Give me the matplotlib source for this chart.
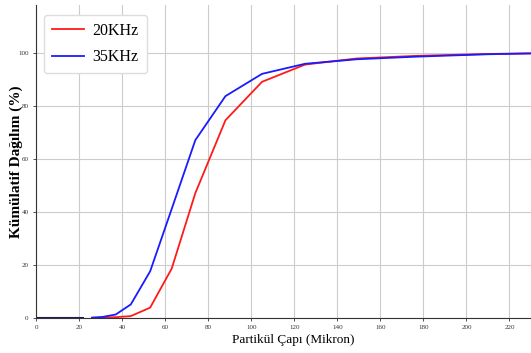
import matplotlib
matplotlib.use("Agg")
from matplotlib import pyplot as plt

# particle size (micron)
size = [26, 31, 37, 44, 53, 63, 74, 88, 105, 125, 149, 177, 210, 250]
khz20 = [0, 0, 0.2, 0.6, 3.8, 18.5, 47, 74.5, 89, 95.5, 97.8, 98.8, 99.5, 100]
khz35 = [0, 0.3, 1.2, 5, 17.5, 41, 67, 83.6, 92, 95.8, 97.5, 98.5, 99.4, 100]
base_x = [0, 22]
base_y = [0, 0]

plt.rcParams['font.family'] = ['Liberation Serif', 'DejaVu Serif']

fig = plt.figure(figsize=(5.31, 3.53), dpi=100)
ax = fig.add_axes([0.068, 0.1, 0.932, 0.886])

ax.plot(base_x, base_y, color="#1c1c5a", linewidth=1.5)
ax.plot(size, khz20, color="#ff1a1a", linewidth=1.3, label="20KHz")
ax.plot(size, khz35, color="#1a1aff", linewidth=1.3, label="35KHz")

ax.set_xlim(0, 230)
ax.set_ylim(0, 118)
ax.set_xticks(range(0, 221, 20))
ax.set_yticks(range(0, 101, 20))
ax.tick_params(labelsize=5, length=2, width=0.6, colors="#333333")
ax.grid(True, color="#cccccc", linewidth=0.8)
ax.set_axisbelow(True)

for s in ["top", "right"]:
    ax.spines[s].set_visible(False)
for s in ["left", "bottom"]:
    ax.spines[s].set_color("#333333")
    ax.spines[s].set_linewidth(0.8)

ax.set_xlabel("Partikül Çapı (Mikron)", fontsize=9.5)
ax.xaxis.set_label_coords(0.519, -0.052)
ax.set_ylabel("Kümülatif Dağılım (%)", fontsize=11, fontweight="bold")
ax.yaxis.set_label_coords(-0.027, 0.5)

ax.legend(loc="upper left", fontsize=11.5, handlelength=2.0, handletextpad=0.55,
          borderpad=0.5, labelspacing=0.65, borderaxespad=0, framealpha=1,
          edgecolor="#dddddd", bbox_to_anchor=(0.016, 0.968))

fig.savefig("out.png", dpi=100)
